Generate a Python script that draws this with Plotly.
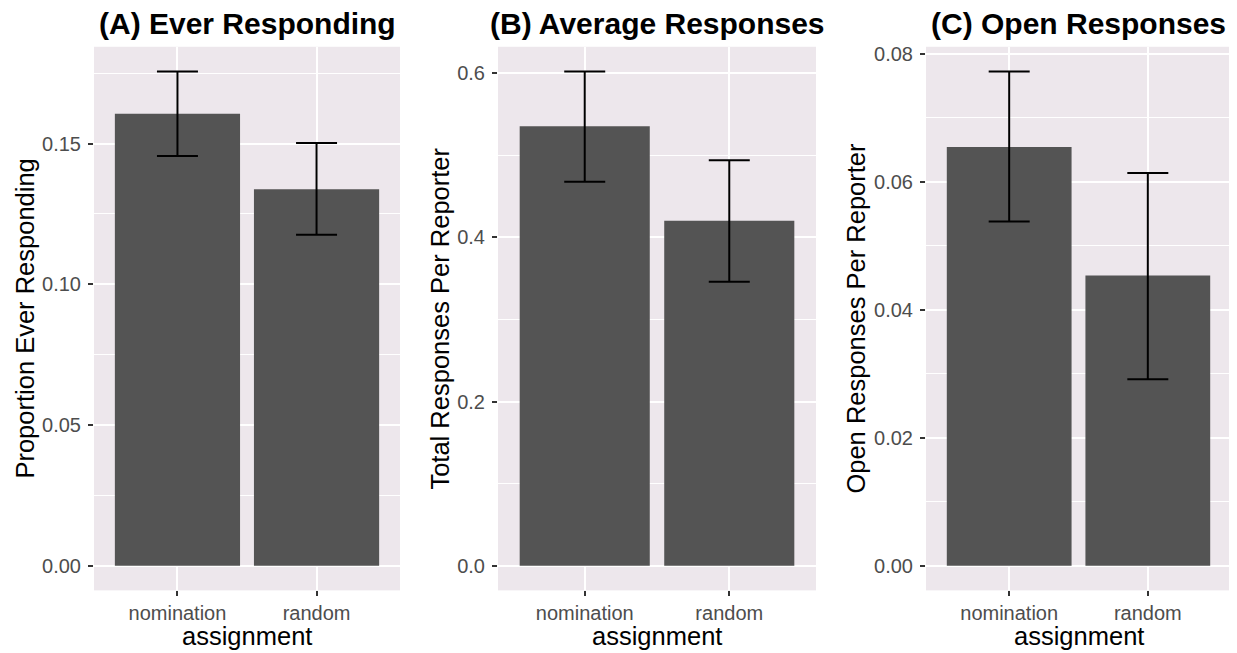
import plotly.graph_objects as go

categories = ["nomination", "random"]

ever_mean = [0.1606, 0.1338]
ever_lo = [0.1456, 0.1176]
ever_hi = [0.1756, 0.1502]

avg_mean = [0.5353, 0.4203]
avg_lo = [0.4676, 0.3460]
avg_hi = [0.6020, 0.4940]

open_mean = [0.06546, 0.04535]
open_lo = [0.05380, 0.02915]
open_hi = [0.07725, 0.06140]

titles = ["(A) Ever Responding", "(B) Average Responses", "(C) Open Responses"]
ytitles = ["Proportion Ever Responding", "Total Responses Per Reporter", "Open Responses Per Reporter"]
xtitle = "assignment"

# page is offset by the default 8px body margin
OFF = 8
W, H = 1237 - OFF, 653 - OFF
FONT = "Liberation Sans, Arial, Helvetica, sans-serif"
BG = "#EDE7EC"
BAR = "#545454"

def px(x):
    return (x - OFF) / W

def py(y):
    return 1 - (y - OFF) / H

panels = [
    dict(mean=ever_mean, lo=ever_lo, hi=ever_hi, x0=94, x1=400, dtick=0.05, fmt=".2f", ytx=25),
    dict(mean=avg_mean, lo=avg_lo, hi=avg_hi, x0=498, x1=816, dtick=0.2, fmt=".1f", ytx=440),
    dict(mean=open_mean, lo=open_lo, hi=open_hi, x0=926, x1=1231, dtick=0.02, fmt=".2f", ytx=856),
]

top, bottom = 43, 590
fig = go.Figure()
annotations = []
layout_axes = {}

for i, p in enumerate(panels, start=1):
    xa = "x" if i == 1 else f"x{i}"
    ya = "y" if i == 1 else f"y{i}"
    up = [h - m for h, m in zip(p["hi"], p["mean"])]
    dn = [m - l for m, l in zip(p["mean"], p["lo"])]
    fig.add_trace(go.Bar(
        x=categories, y=p["mean"], xaxis=xa, yaxis=ya,
        marker=dict(color=BAR, line=dict(width=0)), width=0.9,
        error_y=dict(type="data", symmetric=False, array=up, arrayminus=dn,
                     color="black", thickness=2, width=20.5),
        showlegend=False,
    ))
    ymax = max(p["hi"])
    pad = 0.05 * ymax
    xkey = "xaxis" if i == 1 else f"xaxis{i}"
    ykey = "yaxis" if i == 1 else f"yaxis{i}"
    layout_axes[xkey] = dict(
        domain=[px(p["x0"]), px(p["x1"])], anchor=ya,
        range=[-0.6, 1.6], showgrid=True, gridcolor="white", gridwidth=2,
        ticks="outside", ticklen=5, tickwidth=1.5, tickcolor="#333333",
        tickfont=dict(family=FONT, size=20, color="#4d4d4d"),
        zeroline=False, showline=False, fixedrange=True,
    )
    layout_axes[ykey] = dict(
        domain=[py(bottom), py(top)], anchor=xa,
        range=[-pad, ymax + pad], dtick=p["dtick"], tick0=0, tickformat=p["fmt"],
        showgrid=True, gridcolor="white", gridwidth=2,
        minor=dict(dtick=p["dtick"] / 2, showgrid=True, gridcolor="white", gridwidth=1, ticks=""),
        ticks="outside", ticklen=5, tickwidth=1.5, tickcolor="#333333",
        ticklabelstandoff=3,
        tickfont=dict(family=FONT, size=20, color="#4d4d4d"),
        zeroline=False, showline=False, fixedrange=True,
    )
    cx = px((p["x0"] + p["x1"]) / 2)
    annotations.append(dict(text=f"<b>{titles[i-1]}</b>", x=cx, y=py(20), xref="paper", yref="paper",
                            xanchor="center", yanchor="middle", showarrow=False,
                            font=dict(family=FONT, size=30, color="black")))
    annotations.append(dict(text=ytitles[i-1], x=px(p["ytx"]), y=py((top + bottom) / 2),
                            xref="paper", yref="paper", xanchor="center", yanchor="middle",
                            textangle=-90, showarrow=False,
                            font=dict(family=FONT, size=25.5, color="black")))
    annotations.append(dict(text=xtitle, x=cx, y=py(636), xref="paper", yref="paper",
                            xanchor="center", yanchor="middle", showarrow=False,
                            font=dict(family=FONT, size=25.5, color="black")))

fig.update_layout(
    width=W, height=H, margin=dict(l=0, r=0, t=0, b=0),
    paper_bgcolor="white", plot_bgcolor=BG,
    bargap=0.1, annotations=annotations, **layout_axes,
)

fig.write_html("out.html")
